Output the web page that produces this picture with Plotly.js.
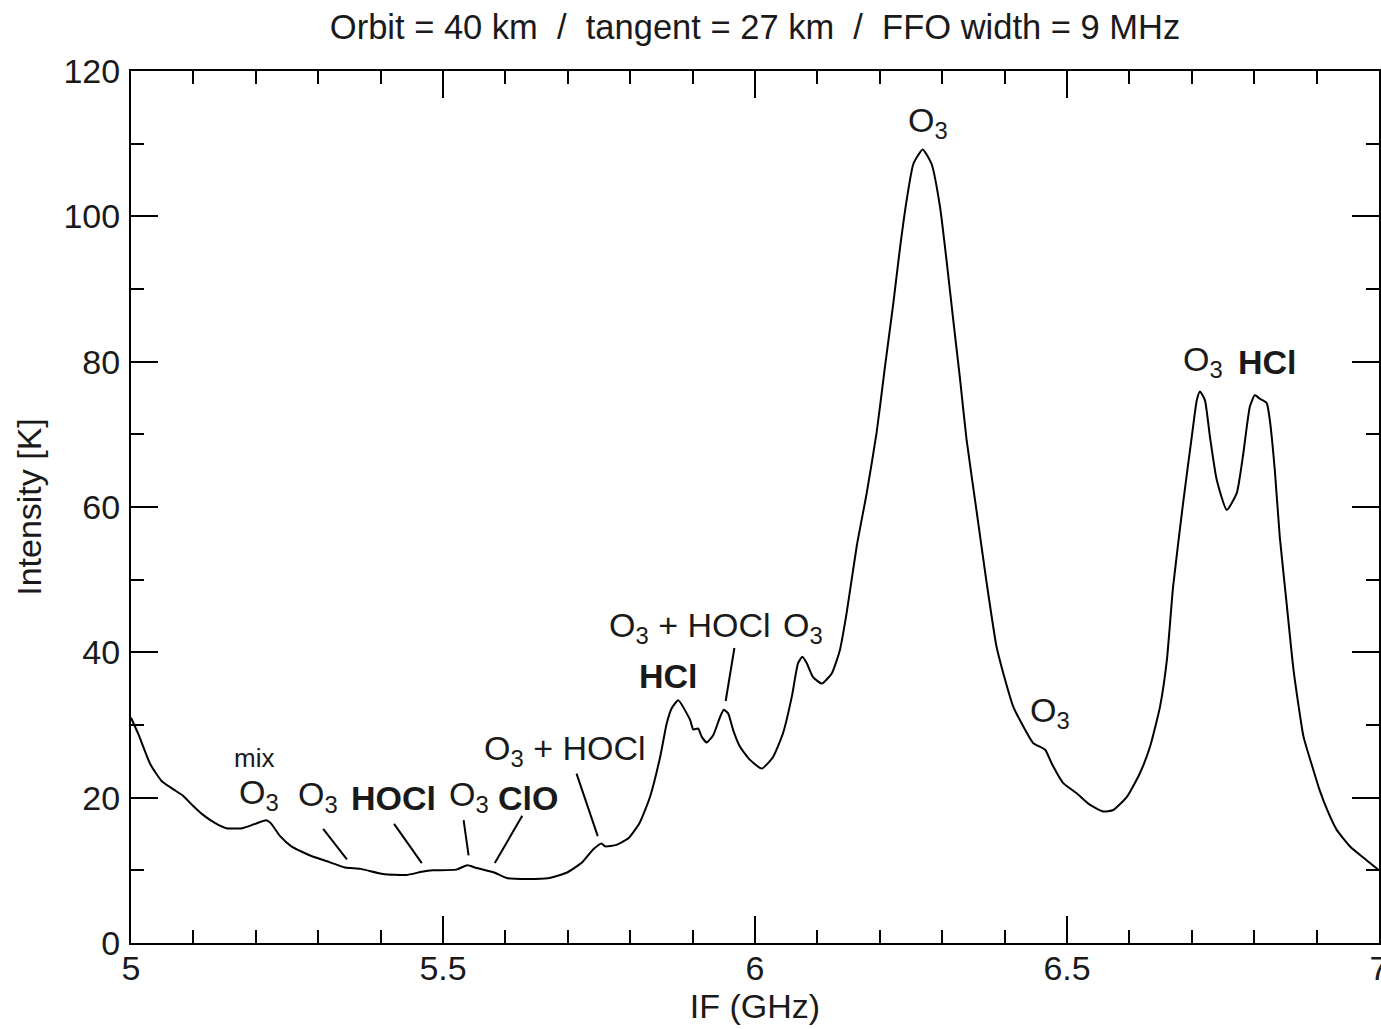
<!DOCTYPE html>
<html>
<head>
<meta charset="utf-8">
<script src="https://cdn.plot.ly/plotly-3.0.1.min.js"></script>
<style>html,body{margin:0;padding:0;background:#fff;}#chart{width:1381px;height:1029px;}</style>
</head>
<body>
<div id="chart"></div>
<script>
// Spectrum: IF frequency (GHz) and intensity (K)
const ifGHz = [5.000,5.012,5.031,5.049,5.067,5.083,5.098,5.116,5.135,5.153,5.178,5.196,5.217,5.224,5.239,5.257,5.288,5.319,5.343,5.368,5.404,5.441,5.466,5.484,5.521,5.539,5.551,5.582,5.604,5.637,5.668,5.699,5.723,5.741,5.754,5.760,5.778,5.797,5.815,5.8317,5.848,5.8585,5.8665,5.877,5.896,5.901,5.909,5.9145,5.9226,5.933,5.944,5.950,5.957,5.965,5.976,5.992,6.011,6.029,6.045,6.059,6.069,6.076,6.083,6.093,6.107,6.123,6.136,6.147,6.163,6.179,6.195,6.208,6.2216,6.232,6.243,6.2537,6.2687,6.283,6.2965,6.307,6.318,6.3285,6.339,6.355,6.371,6.387,6.398,6.414,6.430,6.446,6.465,6.4755,6.494,6.5155,6.537,6.558,6.574,6.596,6.617,6.633,6.649,6.660,6.670,6.686,6.700,6.708,6.713,6.721,6.729,6.740,6.756,6.772,6.7826,6.793,6.801,6.809,6.820,6.825,6.833,6.841,6.852,6.863,6.879,6.892,6.905,6.918,6.932,6.954,6.980,7.000];
const intensityK = [31.0,28.7,24.6,22.3,21.2,20.3,19.0,17.6,16.5,15.8,15.8,16.3,16.9,16.5,14.7,13.3,12.0,11.1,10.4,10.2,9.5,9.35,9.8,10.0,10.1,10.7,10.4,9.7,8.9,8.8,8.9,9.7,11.1,12.9,13.7,13.3,13.5,14.4,16.5,20.1,25.6,30.2,32.3,33.4,30.7,29.4,29.5,28.4,27.6,28.6,31.1,32.1,31.6,29.3,27.0,25.2,24.0,25.6,28.9,33.9,38.5,39.4,38.5,36.6,35.7,37.1,40.3,45.5,54.6,61.9,70.3,79.1,88.0,95.4,102.2,107.2,109.2,107.2,101.3,93.9,85.5,77.7,69.3,59.5,49.7,40.8,37.1,32.5,29.8,27.5,26.6,24.7,22.0,20.6,19.0,18.1,18.3,20.1,23.4,27.0,32.5,38.9,49.0,60.5,69.7,74.7,75.9,74.7,69.7,63.7,59.6,61.9,67.4,73.8,75.4,74.9,74.3,72.0,65.1,55.9,46.7,37.6,28.4,24.6,21.0,18.1,15.6,13.25,11.4,10.0];

// Line labels
const labelText = ["mix","O<sub>3</sub>","O<sub>3</sub>","<b>HOCl</b>","O<sub>3</sub>","<b>ClO</b>","O<sub>3</sub> + HOCl","O<sub>3</sub> + HOCl","<b>HCl</b>","O<sub>3</sub>","O<sub>3</sub>","O<sub>3</sub>","O<sub>3</sub>","<b>HCl</b>"];
const labelX = [5.197,5.205,5.2997,5.4199,5.5417,5.6362,5.6955,5.8958,5.8606,6.077,6.2772,6.4728,6.7179,6.8221];
const labelY = [25.5,20.4,20.1,19.95,20.1,19.95,26.56,43.35,36.74,43.35,112.98,31.66,80.0,80.0];
const labelSize = [26,34,34,34,34,34,34,34,34,34,34,34,34,34];

// Leader lines (label -> feature), null separates segments
const leaderX = [5.308,5.346,null,5.4216,5.466,null,5.533,5.541,null,5.627,5.583,null,5.714,5.748,null,5.967,5.953];
const leaderY = [15.7,11.5,null,16.4,11.0,null,16.9,12.05,null,17.5,11.0,null,23.3,14.7,null,40.6,33.3];

const titleText = "Orbit = 40 km  /  tangent = 27 km  /  FFO width = 9 MHz";
const xTitle = "IF (GHz)";
const yTitle = "Intensity [K]";

const FONT = "Liberation Sans, Arial, sans-serif";
const INK = "#1a1a1a";

const traces = [
  {x: ifGHz, y: intensityK, mode: "lines", line: {color: "#000", width: 2, shape: "spline", smoothing: 0.5}, hoverinfo: "skip"},
  {x: leaderX, y: leaderY, mode: "lines", line: {color: "#000", width: 2}, connectgaps: false, hoverinfo: "skip"}
];

const annotations = labelText.map((t, i) => ({
  x: labelX[i], y: labelY[i], xref: "x", yref: "y", text: t, showarrow: false,
  xanchor: "center", yanchor: "middle",
  font: {family: FONT, size: labelSize[i], color: INK}
}));

const axisCommon = {
  showline: true, linecolor: "#000", linewidth: 2, mirror: "allticks",
  ticks: "inside", ticklen: 27, tickwidth: 2, tickcolor: "#000",
  showgrid: false, zeroline: false, ticklabeloverflow: "allow",
  tickfont: {family: FONT, size: 34, color: INK}
};

const layout = {
  width: 1381, height: 1029,
  margin: {l: 131, r: 2, t: 71, b: 86},
  paper_bgcolor: "#fff", plot_bgcolor: "#fff",
  showlegend: false,
  title: {text: titleText, font: {family: FONT, size: 34.5, color: INK}, x: 0.5, xref: "paper", y: 1 - 27/1029, yref: "container", yanchor: "middle", xanchor: "center"},
  xaxis: Object.assign({}, axisCommon, {
    range: [5, 7], tickvals: [5, 5.5, 6, 6.5, 7], ticktext: ["5","5.5","6","6.5","7"],
    ticklabelstandoff: -6,
    minor: {dtick: 0.1, tick0: 5, ticks: "inside", ticklen: 13, tickwidth: 2, tickcolor: "#000"},
    title: {text: xTitle, font: {family: FONT, size: 34, color: INK}, standoff: 6}
  }),
  yaxis: Object.assign({}, axisCommon, {
    range: [0, 120], dtick: 20, tick0: 0,
    ticklabelstandoff: 2,
    minor: {dtick: 10, tick0: 0, ticks: "inside", ticklen: 13, tickwidth: 2, tickcolor: "#000"},
    title: {text: yTitle, font: {family: FONT, size: 34, color: INK}, standoff: 12}
  }),
  annotations: annotations
};

Plotly.newPlot("chart", traces, layout, {displayModeBar: false, staticPlot: true});
</script>
</body>
</html>
